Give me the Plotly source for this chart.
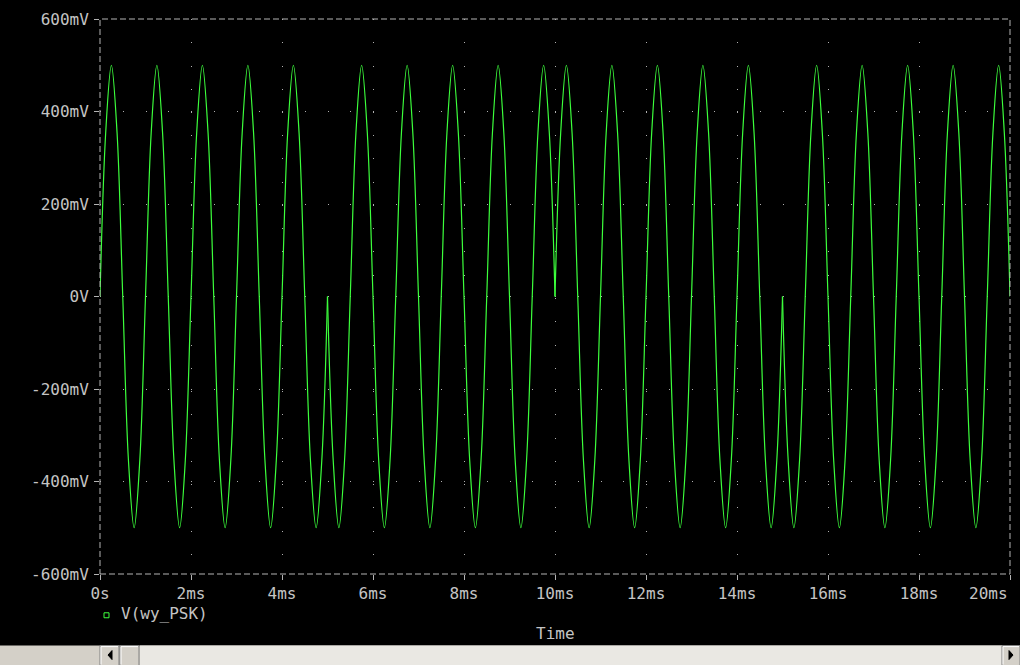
import plotly.graph_objects as go

# V(wy_PSK), one sample every 1/8 ms
t_ms = [
    0, 0.125, 0.25, 0.375, 0.5, 0.625, 0.75, 0.875,
    1, 1.125, 1.25, 1.375, 1.5, 1.625, 1.75, 1.875,
    2, 2.125, 2.25, 2.375, 2.5, 2.625, 2.75, 2.875,
    3, 3.125, 3.25, 3.375, 3.5, 3.625, 3.75, 3.875,
    4, 4.125, 4.25, 4.375, 4.5, 4.625, 4.75, 4.875,
    5, 5.125, 5.25, 5.375, 5.5, 5.625, 5.75, 5.875,
    6, 6.125, 6.25, 6.375, 6.5, 6.625, 6.75, 6.875,
    7, 7.125, 7.25, 7.375, 7.5, 7.625, 7.75, 7.875,
    8, 8.125, 8.25, 8.375, 8.5, 8.625, 8.75, 8.875,
    9, 9.125, 9.25, 9.375, 9.5, 9.625, 9.75, 9.875,
    10, 10.125, 10.25, 10.375, 10.5, 10.625, 10.75, 10.875,
    11, 11.125, 11.25, 11.375, 11.5, 11.625, 11.75, 11.875,
    12, 12.125, 12.25, 12.375, 12.5, 12.625, 12.75, 12.875,
    13, 13.125, 13.25, 13.375, 13.5, 13.625, 13.75, 13.875,
    14, 14.125, 14.25, 14.375, 14.5, 14.625, 14.75, 14.875,
    15, 15.125, 15.25, 15.375, 15.5, 15.625, 15.75, 15.875,
    16, 16.125, 16.25, 16.375, 16.5, 16.625, 16.75, 16.875,
    17, 17.125, 17.25, 17.375, 17.5, 17.625, 17.75, 17.875,
    18, 18.125, 18.25, 18.375, 18.5, 18.625, 18.75, 18.875,
    19, 19.125, 19.25, 19.375, 19.5, 19.625, 19.75, 19.875,
    20,
]
v_mv = [
    0, 354, 500, 354, 0, -354, -500, -354,
    0, 354, 500, 354, 0, -354, -500, -354,
    0, 354, 500, 354, 0, -354, -500, -354,
    0, 354, 500, 354, 0, -354, -500, -354,
    0, 354, 500, 354, 0, -354, -500, -354,
    0, -354, -500, -354, 0, 354, 500, 354,
    0, -354, -500, -354, 0, 354, 500, 354,
    0, -354, -500, -354, 0, 354, 500, 354,
    0, -354, -500, -354, 0, 354, 500, 354,
    0, -354, -500, -354, 0, 354, 500, 354,
    0, 354, 500, 354, 0, -354, -500, -354,
    0, 354, 500, 354, 0, -354, -500, -354,
    0, 354, 500, 354, 0, -354, -500, -354,
    0, 354, 500, 354, 0, -354, -500, -354,
    0, 354, 500, 354, 0, -354, -500, -354,
    0, -354, -500, -354, 0, 354, 500, 354,
    0, -354, -500, -354, 0, 354, 500, 354,
    0, -354, -500, -354, 0, 354, 500, 354,
    0, -354, -500, -354, 0, 354, 500, 354,
    0, -354, -500, -354, 0, 354, 500, 354,
    0,
]
# phase flips of the PSK symbols
symbol_bounds_ms = [0, 5, 10, 15, 20]

x_ticks = [0, 2, 4, 6, 8, 10, 12, 14, 16, 18, 20]
x_labels = ["0s", "2ms", "4ms", "6ms", "8ms", "10ms", "12ms", "14ms", "16ms", "18ms", "20ms"]
y_ticks = [600, 400, 200, 0, -200, -400, -600]
y_labels = ["600mV", "400mV", "200mV", "0V", "-200mV", "-400mV", "-600mV"]

GREEN = "#3cff3c"
GREY = "#c4c4c4"
FONT = "DejaVu Sans Mono"

# plot area in window pixels
L, R, T, B = 100, 1010, 16, 574


def px(x):
    return (x - L) / (R - L)


def py(y):
    return (B - y) / (B - T)


fig = go.Figure()

# one trace per symbol so the phase jumps stay sharp
for a, b in zip(symbol_bounds_ms[:-1], symbol_bounds_ms[1:]):
    i0, i1 = t_ms.index(a), t_ms.index(b)
    fig.add_trace(go.Scatter(
        x=t_ms[i0:i1 + 1], y=v_mv[i0:i1 + 1],
        mode="lines",
        line=dict(color=GREEN, width=1.2, shape="spline", smoothing=1.0),
        showlegend=False, hoverinfo="skip",
    ))

shapes = [
    # dashed frame
    dict(type="rect", xref="paper", yref="paper", x0=0, x1=1, y0=0, y1=1,
         line=dict(color="#b4b4b4", width=1, dash="6px,3px")),
    # legend marker
    dict(type="rect", xref="paper", yref="paper",
         x0=px(104), x1=px(109), y0=py(613), y1=py(618),
         line=dict(color=GREEN, width=1)),
    # scroll bar
    dict(type="rect", xref="paper", yref="paper", x0=px(0), x1=px(1020), y0=py(646), y1=py(666),
         fillcolor="#d4d0c8", line_width=0, layer="above"),
    dict(type="rect", xref="paper", yref="paper", x0=px(140), x1=px(1002), y0=py(646), y1=py(666),
         fillcolor="#eae8e3", line_width=0),
]
for x0, x1 in [(100, 119), (120, 139), (1002, 1020)]:
    shapes.append(dict(type="rect", xref="paper", yref="paper",
                       x0=px(x0), x1=px(x1), y0=py(646), y1=py(666),
                       fillcolor="#d4d0c8", line=dict(color="#808080", width=1)))
    shapes.append(dict(type="path", xref="paper", yref="paper",
                       path=f"M{px(x0 + 1)},{py(647)} L{px(x1 - 1)},{py(647)}",
                       line=dict(color="#ffffff", width=1)))
    shapes.append(dict(type="path", xref="paper", yref="paper",
                       path=f"M{px(x0 + 1)},{py(647)} L{px(x0 + 1)},{py(665)}",
                       line=dict(color="#ffffff", width=1)))
# scroll arrows
shapes.append(dict(type="path", xref="paper", yref="paper",
                   path=f"M{px(112)},{py(651)} L{px(112)},{py(660)} L{px(108)},{py(655.5)} Z",
                   fillcolor="#000000", line=dict(color="#000000", width=1)))
shapes.append(dict(type="path", xref="paper", yref="paper",
                   path=f"M{px(1009)},{py(651)} L{px(1009)},{py(660)} L{px(1013)},{py(655.5)} Z",
                   fillcolor="#000000", line=dict(color="#000000", width=1)))

annotations = [
    dict(text=x_labels[-1], x=x_ticks[-1], xref="x", xanchor="right",
         y=py(594), yref="paper", yanchor="middle", showarrow=False,
         font=dict(family=FONT, size=16, color=GREY)),
    dict(text="V(wy_PSK)", x=px(119), xref="paper", xanchor="left",
         y=py(614), yref="paper", yanchor="middle", showarrow=False,
         font=dict(family=FONT, size=16, color=GREY)),
    dict(text="Time", x=0.5, xref="paper", xanchor="center",
         y=py(634), yref="paper", yanchor="middle", showarrow=False,
         font=dict(family=FONT, size=16, color=GREY)),
]

fig.update_layout(
    width=1020, height=665,
    margin=dict(l=L, r=1020 - R, t=T, b=665 - B, pad=0),
    paper_bgcolor="#000000", plot_bgcolor="#000000",
    font=dict(family=FONT, size=16, color=GREY),
    shapes=shapes, annotations=annotations,
    xaxis=dict(
        range=[0, 20], tickvals=x_ticks, ticktext=x_labels[:-1] + [""],
        ticks="outside", ticklen=5, tickcolor="#b4b4b4",
        showgrid=True, gridcolor="#b0b0b0", gridwidth=1, griddash="1px,22.25px",
        zeroline=False, showline=False, fixedrange=True,
    ),
    yaxis=dict(
        range=[-600, 600], tickvals=y_ticks, ticktext=y_labels,
        ticks="outside", ticklen=5, tickcolor="#b4b4b4", ticklabelstandoff=2,
        showgrid=True, gridcolor="#b0b0b0", gridwidth=1, griddash="1px,21.75px",
        zeroline=False, showline=False, fixedrange=True,
    ),
)

fig.write_html(
    "out.html",
    config={"displayModeBar": False},
    post_script="document.body.style.margin='0';document.body.style.overflow='hidden';",
)
